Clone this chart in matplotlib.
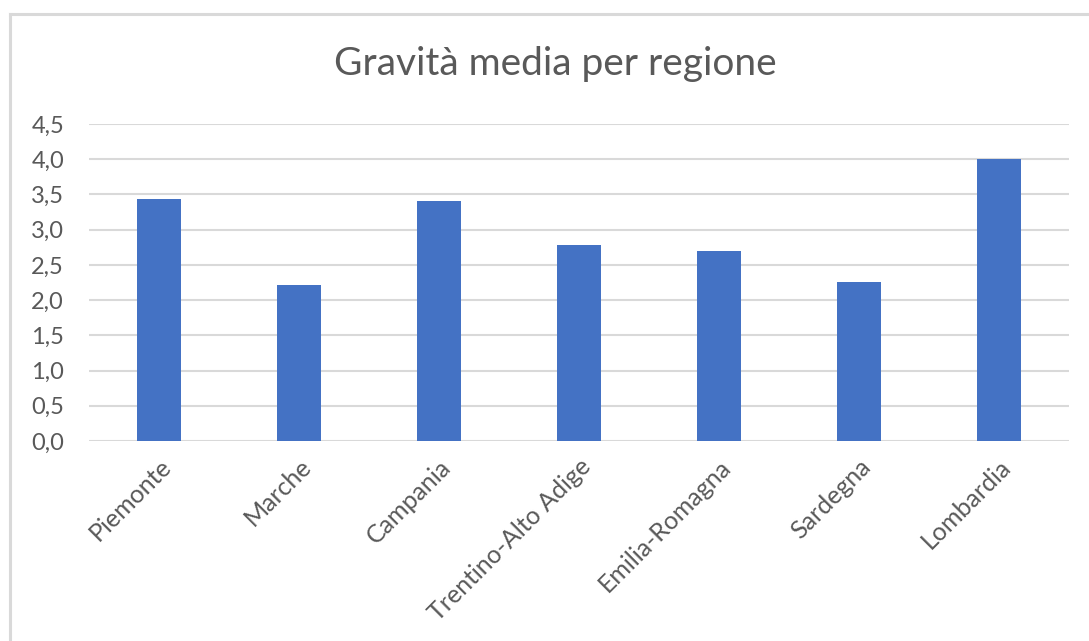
import matplotlib.pyplot as plt
from matplotlib.lines import Line2D

regioni = ["Piemonte", "Marche", "Campania", "Trentino-Alto Adige",
           "Emilia-Romagna", "Sardegna", "Lombardia"]
gravita = [3.44, 2.22, 3.40, 2.78, 2.70, 2.26, 4.00]
yticks = [0.0, 0.5, 1.0, 1.5, 2.0, 2.5, 3.0, 3.5, 4.0, 4.5]

plt.rcParams['font.family'] = ['Lato', 'DejaVu Sans']

W, H = 1089, 641
fig = plt.figure(figsize=(W / 100, H / 100), dpi=100)
ax = fig.add_axes([89 / W, (H - 441) / H, (1069 - 89) / W, (441 - 124) / H])

x = range(len(regioni))
ax.bar(x, gravita, width=0.31, color="#4472C4", zorder=3)

ax.set_xlim(-0.5, len(regioni) - 0.5)
ax.set_ylim(0, 4.5)
ax.set_yticks(yticks)
ax.set_yticklabels([f"{v:.1f}".replace(".", ",") for v in yticks])
ax.yaxis.grid(True, color="#D9D9D9", linewidth=1.5, zorder=0)
for s in ax.spines.values():
    s.set_visible(False)
ax.tick_params(axis="both", length=0, labelsize=17, colors="#595959")
ax.tick_params(axis="y", pad=18)

ax.set_xticks(list(x))
ax.set_xticklabels(regioni, rotation=45, ha="right", rotation_mode="anchor",
                   fontsize=18)
ax.tick_params(axis="x", pad=10)

fig.text(555 / W, 1 - 64 / H, "Gravità media per regione", ha="center",
         va="center", fontsize=28, color="#595959")

# outer chart frame (only top and left edges visible)
fig.add_artist(Line2D([9.5 / W, 1], [1 - 13.5 / H, 1 - 13.5 / H],
                      transform=fig.transFigure, color="#D9D9D9", lw=2.2))
fig.add_artist(Line2D([9.5 / W, 9.5 / W], [0, 1 - 13.5 / H],
                      transform=fig.transFigure, color="#D9D9D9", lw=2.2))

fig.savefig("out.png", dpi=100, facecolor="white")
